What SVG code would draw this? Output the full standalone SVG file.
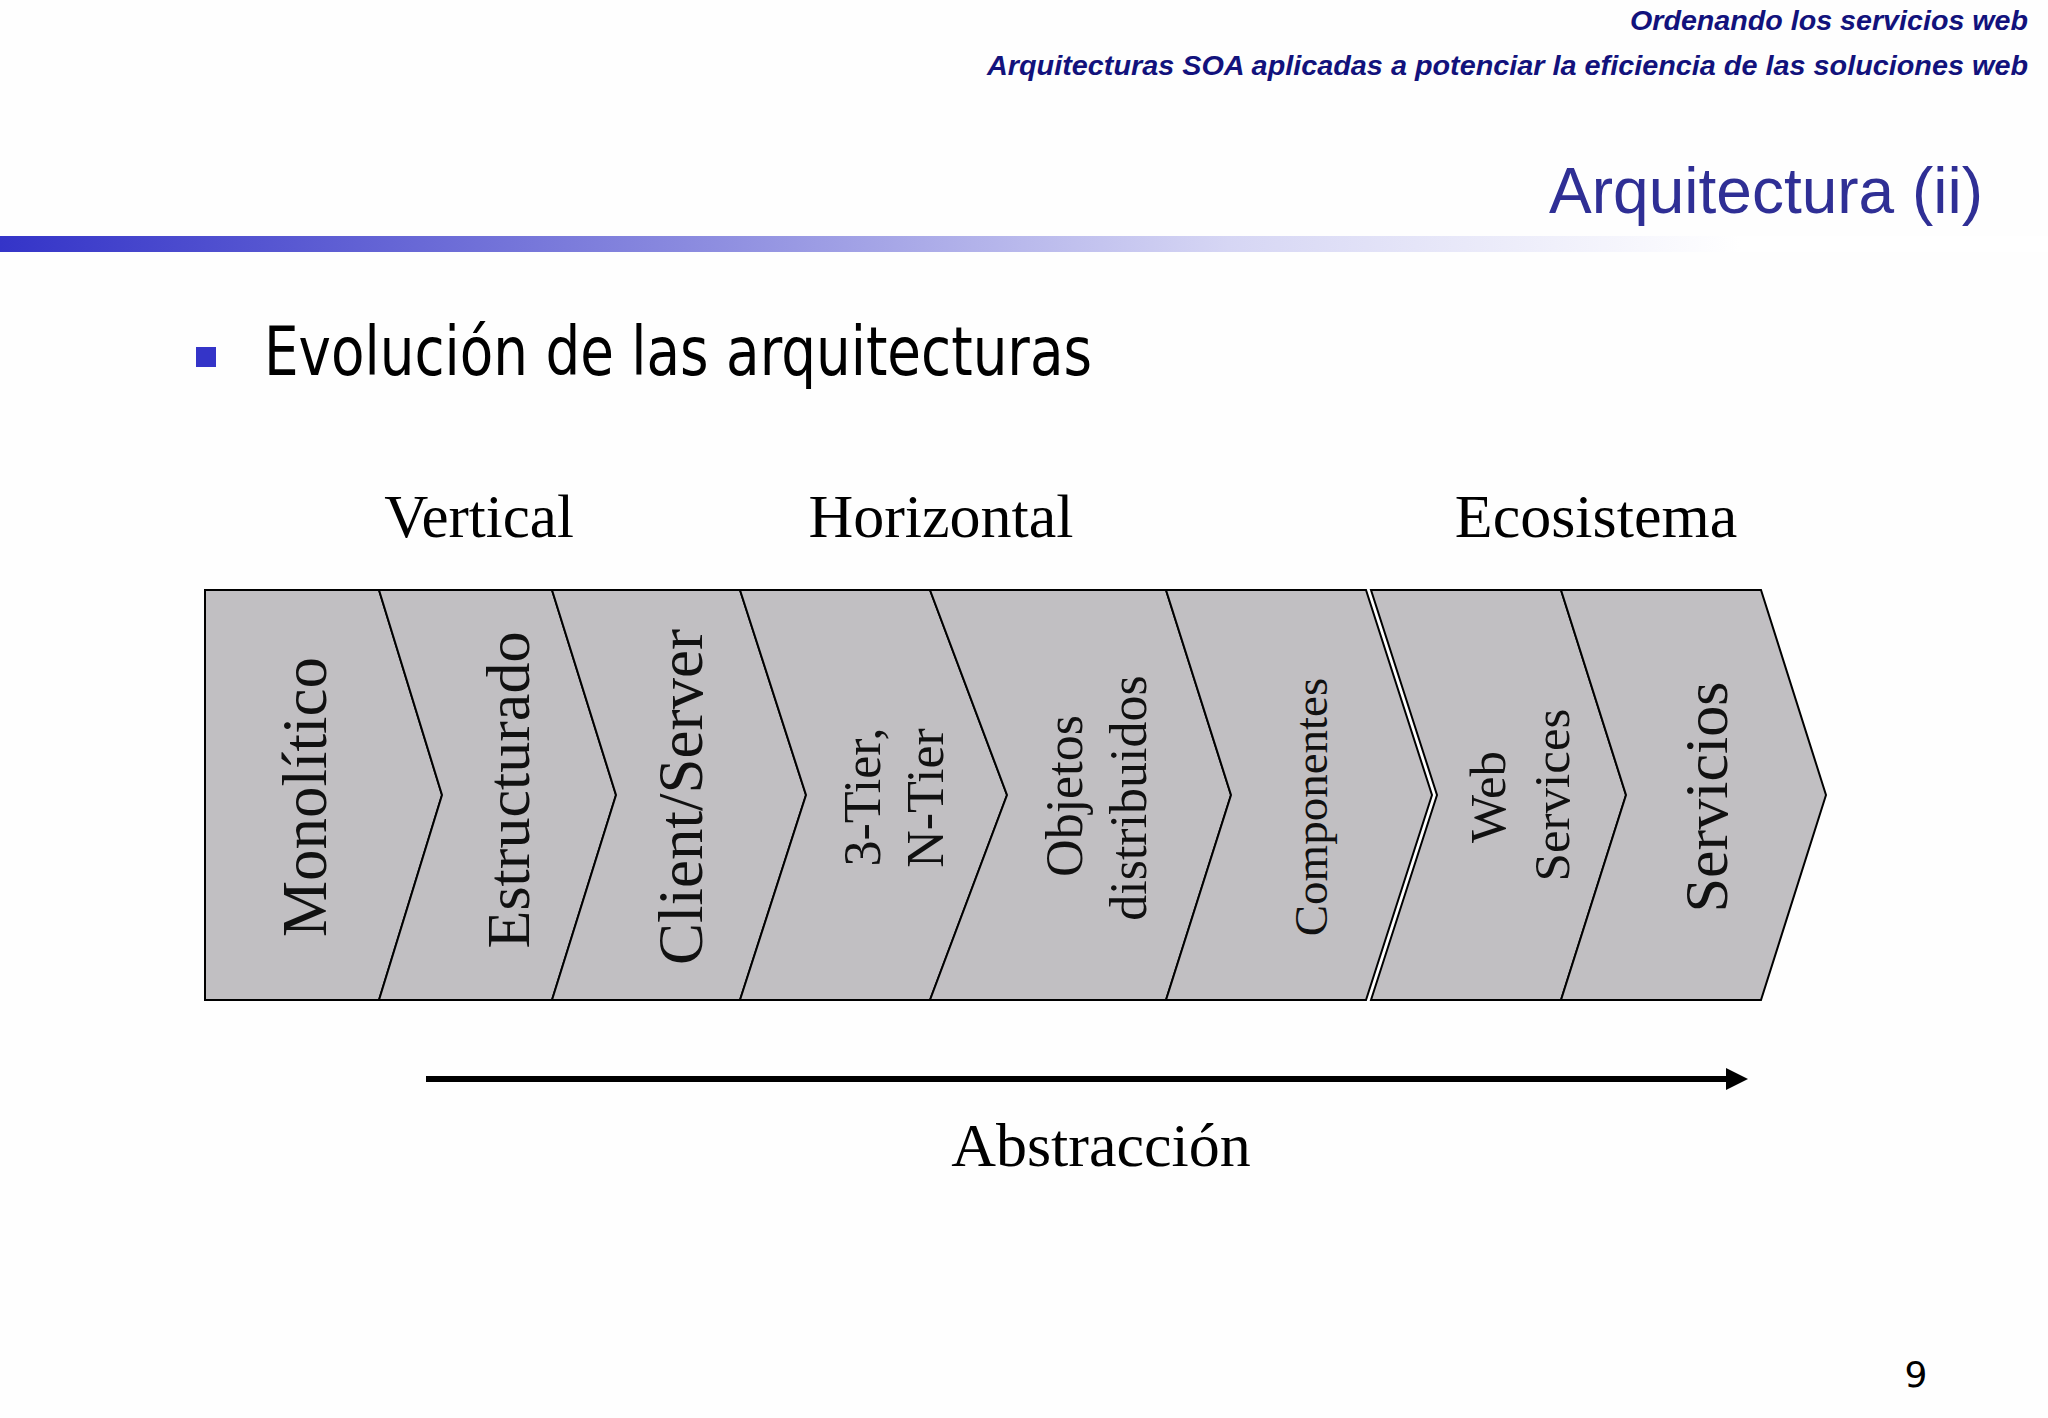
<svg xmlns="http://www.w3.org/2000/svg" width="2048" height="1418" viewBox="0 0 2048 1418">
<defs>
<linearGradient id="bar" x1="0" y1="0" x2="1" y2="0">
<stop offset="0" stop-color="#3434c8"/>
<stop offset="0.35" stop-color="#8e8ee0"/>
<stop offset="0.6" stop-color="#d6d6f4"/>
<stop offset="0.85" stop-color="#ffffff"/>
</linearGradient>
<style>
.hdr{font-family:"Liberation Sans",Arial,sans-serif;font-weight:bold;font-style:italic;fill:#12127c;font-size:28px}
.ttl{font-family:"Liberation Sans",Arial,sans-serif;fill:#2f2f95}
.sans{font-family:"DejaVu Sans","Liberation Sans",sans-serif;fill:#000}
.serif{font-family:"Liberation Serif","Times New Roman",serif;fill:#000}
.chev{fill:#c1bfc2;stroke:#000;stroke-width:2;stroke-linejoin:miter}
.lbl{font-family:"Liberation Serif","Times New Roman",serif;fill:#111;text-anchor:middle}
</style>
</defs>
<rect width="2048" height="1418" fill="#fefefe"/>
<text class="hdr" x="2028" y="30" text-anchor="end" textLength="398" lengthAdjust="spacingAndGlyphs">Ordenando los servicios web</text>
<text class="hdr" x="2028" y="75" text-anchor="end" textLength="1041" lengthAdjust="spacingAndGlyphs">Arquitecturas SOA aplicadas a potenciar la eficiencia de las soluciones web</text>
<text class="ttl" x="1983" y="213" font-size="64" text-anchor="end">Arquitectura (ii)</text>
<rect x="0" y="236" width="2048" height="16" fill="url(#bar)"/>
<rect x="196" y="347" width="20" height="20" fill="#3434c8"/>
<text class="sans" x="264" y="375" font-size="68" textLength="828" lengthAdjust="spacingAndGlyphs">Evolución de las arquitecturas</text>
<text class="serif" x="479" y="537" font-size="61" text-anchor="middle">Vertical</text>
<text class="serif" x="941" y="537" font-size="62" text-anchor="middle">Horizontal</text>
<text class="serif" x="1596" y="537" font-size="62" text-anchor="middle">Ecosistema</text>
<g id="n1"><polygon class="chev" points="205,590 379,590 442,795 379,1000 205,1000"/><text class="lbl" font-size="63" transform="translate(326,797) rotate(-90)">Monolítico</text></g>
<g id="n2"><polygon class="chev" points="379,590 552,590 616,795 552,1000 379,1000 442,795"/><text class="lbl" font-size="62" transform="translate(529,790) rotate(-90)">Estructurado</text></g>
<g id="n3"><polygon class="chev" points="552,590 740,590 806,795 740,1000 552,1000 616,795"/><text class="lbl" font-size="63" transform="translate(702,797) rotate(-90)">Client/Server</text></g>
<g id="n4"><polygon class="chev" points="740,590 930,590 1007,795 930,1000 740,1000 806,795"/><text class="lbl" font-size="52" transform="translate(880,797) rotate(-90)">3-Tier,</text><text class="lbl" font-size="52" transform="translate(943,798) rotate(-90)">N-Tier</text></g>
<g id="n5"><polygon class="chev" points="930,590 1166,590 1231,795 1166,1000 930,1000 1007,795"/><text class="lbl" font-size="52" transform="translate(1082,796) rotate(-90)">Objetos</text><text class="lbl" font-size="52" transform="translate(1146,798) rotate(-90)">distribuidos</text></g>
<g id="n6"><polygon class="chev" points="1166,590 1366,590 1432,795 1366,1000 1166,1000 1231,795"/><text class="lbl" font-size="47" transform="translate(1327,807) rotate(-90)">Componentes</text></g>
<g id="n7"><polygon class="chev" points="1371,590 1561,590 1626,795 1561,1000 1371,1000 1437,795"/><text class="lbl" font-size="51" transform="translate(1505,797) rotate(-90)">Web</text><text class="lbl" font-size="51" transform="translate(1569,795) rotate(-90)">Services</text></g>
<g id="n8"><polygon class="chev" points="1561,590 1761,590 1826,795 1761,1000 1561,1000 1626,795"/><text class="lbl" font-size="62" transform="translate(1727,797) rotate(-90)">Servicios</text></g>
<g id="connectors">
<line x1="426" y1="1079" x2="1730" y2="1079" stroke="#000" stroke-width="6"/>
<polygon points="1726,1068 1748,1079 1726,1090" fill="#000"/>
</g>
<text class="serif" x="1101" y="1166" font-size="62" text-anchor="middle">Abstracción</text>
<text class="sans" x="1916" y="1387" font-size="36" text-anchor="middle">9</text>
</svg>
